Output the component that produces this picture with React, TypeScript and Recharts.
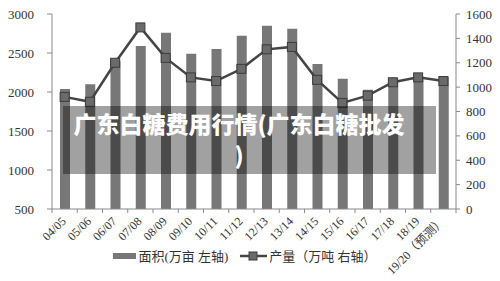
import React from "react";
import {
  ComposedChart,
  Bar,
  Line,
  XAxis,
  YAxis,
  Legend,
} from "recharts";

// 年度 / 面积(万亩) / 产量(万吨)
const seasons = [
  "04/05", "05/06", "06/07", "07/08", "08/09", "09/10", "10/11", "11/12",
  "12/13", "13/14", "14/15", "15/16", "16/17", "17/18", "18/19", "19/20（预测）",
];
const area = [
  2040, 2100, 2400, 2590, 2760, 2490, 2550, 2720,
  2850, 2810, 2360, 2170, 2030, 2170, 2200, 2190,
];
const output = [
  920, 880, 1200, 1490, 1240, 1080, 1050, 1150,
  1310, 1330, 1060, 870, 930, 1040, 1080, 1050,
];
const leftTicks = [500, 1000, 1500, 2000, 2500, 3000];
const rightTicks = [0, 200, 400, 600, 800, 1000, 1200, 1400, 1600];

const data = seasons.map((s, i) => ({ season: s, area: area[i], output: output[i] }));

const FONT = '"Liberation Serif", "Times New Roman", "Noto Sans CJK SC", serif';
const AXIS = "#8a8a8a";
const BAR = "#777777";
const LINE = "#454545";

function SeasonTick(props: any) {
  const { x, y, payload, index, visibleTicksCount } = props;
  const half = payload && payload.offset ? payload.offset : 12.6;
  const last = index === (visibleTicksCount ?? seasons.length) - 1;
  return (
    <g>
      <line x1={x - half} x2={x - half} y1={y - 8} y2={y - 4} stroke={AXIS} />
      {last && <line x1={x + half} x2={x + half} y1={y - 8} y2={y - 4} stroke={AXIS} />}
      <text
        x={x + 2}
        y={y + 5}
        textAnchor="end"
        transform={`rotate(-45 ${x + 2} ${y + 5})`}
        fontSize={12}
        fontFamily={FONT}
        fill="#333"
      >
        {payload.value}
      </text>
    </g>
  );
}

function SquareDot(props: any) {
  const { cx, cy } = props;
  if (cx == null || cy == null) return null;
  return <rect x={cx - 4.5} y={cy - 4.5} width={9} height={9} fill="#6a6a6a" stroke="#3c3c3c" strokeWidth={1} />;
}

function ChartLegend() {
  const text: React.CSSProperties = { fontSize: 13, color: "#333", fontFamily: FONT };
  return (
    <div style={{ display: "flex", justifyContent: "center", alignItems: "center", gap: 12, paddingRight: 10 }}>
      <span style={{ display: "flex", alignItems: "center", gap: 2 }}>
        <span style={{ width: 23, height: 6, background: BAR, display: "inline-block" }} />
        <span style={text}>面积(万亩 左轴)</span>
      </span>
      <span style={{ display: "flex", alignItems: "center", gap: 2 }}>
        <svg width={27} height={10}>
          <line x1={0} x2={27} y1={5} y2={5} stroke={LINE} strokeWidth={2.5} />
          <rect x={9} y={1} width={8} height={8} fill="#6a6a6a" stroke="#3c3c3c" />
        </svg>
        <span style={text}>产量（万吨 右轴）</span>
      </span>
    </div>
  );
}

export default function App() {
  return (
    <div style={{ position: "relative", width: 500, height: 281, background: "#fff" }}>
      <style>{`body{margin:0}`}</style>
      <ComposedChart
        width={500}
        height={281}
        data={data}
        margin={{ top: 14, right: 0, left: 0, bottom: 15 }}
      >
        <XAxis
          dataKey="season"
          interval={0}
          height={37}
          tick={<SeasonTick />}
          tickLine={false}
          stroke={AXIS}
        />
        <YAxis
          yAxisId="left"
          orientation="left"
          width={52}
          domain={[500, 3000]}
          ticks={leftTicks}
          tickSize={5}
          tickMargin={13}
          stroke={AXIS}
          tick={{ fill: "#333", fontSize: 13, fontFamily: FONT }}
        />
        <YAxis
          yAxisId="right"
          orientation="right"
          width={44}
          domain={[0, 1600]}
          ticks={rightTicks}
          tickSize={4}
          tickMargin={6}
          stroke={AXIS}
          tick={{ fill: "#333", fontSize: 13, fontFamily: FONT }}
        />
        <Legend verticalAlign="bottom" height={20} content={<ChartLegend />} />
        <Bar yAxisId="left" dataKey="area" fill={BAR} barSize={10} isAnimationActive={false} />
        <Line
          yAxisId="right"
          dataKey="output"
          stroke={LINE}
          strokeWidth={2.5}
          dot={<SquareDot />}
          activeDot={false}
          isAnimationActive={false}
        />
      </ComposedChart>
      <div
        style={{
          position: "absolute",
          left: 63,
          top: 106,
          width: 373,
          height: 68,
          background: "rgba(0,0,0,0.37)",
        }}
      />
      <div
        style={{
          position: "absolute",
          left: 72,
          top: 108,
          width: 334,
          textAlign: "center",
          color: "#fff",
          fontWeight: 900,
          fontSize: 23,
          lineHeight: "31px",
          lineBreak: "anywhere",
          wordBreak: "break-all",
          fontFamily: '"Noto Sans CJK SC", sans-serif',
        }}
      >
        广东白糖费用行情(广东白糖批发)
      </div>
    </div>
  );
}
